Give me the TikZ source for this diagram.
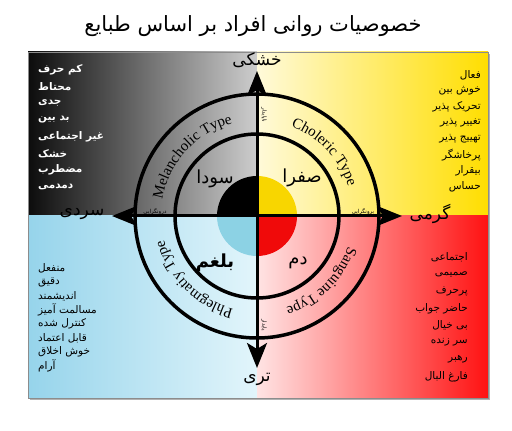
\documentclass[tikz,border=0pt]{standalone}
\usepackage{fontspec}
\setmainfont{Liberation Serif}
\newfontfamily\farsifont[Script=Arabic]{DejaVu Sans}
\TeXXeTstate=1
\usetikzlibrary{arrows.meta,decorations.text}
\newcommand\pfa[1]{{\farsifont\beginR #1\endR}}
\definecolor{tlL}{RGB}{12,12,12}
\definecolor{tlR}{RGB}{205,205,205}
\definecolor{trL}{RGB}{255,250,218}
\definecolor{trR}{RGB}{255,222,0}
\definecolor{blL}{RGB}{150,212,235}
\definecolor{blR}{RGB}{226,245,251}
\definecolor{brL}{RGB}{255,228,228}
\definecolor{brR}{RGB}{255,18,18}
\definecolor{pieY}{RGB}{248,214,0}
\definecolor{pieR}{RGB}{240,10,10}
\definecolor{pieB}{RGB}{140,210,228}
\tikzset{
  axisline/.style={line width=3pt,{Stealth[length=25pt,width=20pt,inset=6pt]}-{Stealth[length=25pt,width=20pt,inset=6pt]}},
  ring/.style={line width=3.5pt},
  axlab/.style={inner sep=0pt,font=\farsifont\fontsize{17}{17}\selectfont},
  humor/.style={inner sep=0pt,font=\farsifont\fontsize{18}{18}\selectfont},
  tiny/.style={inner sep=0pt,font=\farsifont\fontsize{5.5}{5.5}\selectfont},
  listL/.style={anchor=west,inner sep=0pt,font=\farsifont\fontsize{10.5}{10.5}\selectfont},
  listR/.style={anchor=east,inner sep=0pt,font=\farsifont\fontsize{10.5}{10.5}\selectfont},
  arctext/.style={decorate,decoration={text along path,text align=center}}
}
\begin{document}
\begin{tikzpicture}[x=1pt,y=1pt]
\useasboundingbox (0,0) rectangle (512,431);
\fill[white] (0,0) rectangle (512,431);
\coordinate (C) at (257,215);
% panel shadow and quadrants
\fill[black!30] (30,31) rectangle (490,377);
\shade[left color=tlL,right color=tlR] (28,215) rectangle (257,379);
\shade[left color=trL,right color=trR] (257,215) rectangle (488,379);
\shade[left color=blL,right color=blR] (28,33) rectangle (257,215);
\shade[left color=brL,right color=brR] (257,33) rectangle (488,215);
\draw[black!45,line width=0.8pt] (28,33) rectangle (488,379);
% title
\node[inner sep=0pt,font=\farsifont\fontsize{21}{21}\selectfont] (title) at (253,405) {\pfa{خصوصیات روانی افراد بر اساس طبایع}};
% pie
\fill[black] (C) -- ([shift={(90:40)}]C) arc (90:180:40) -- cycle;
\fill[pieY] (C) -- ([shift={(0:40)}]C) arc (0:90:40) -- cycle;
\fill[pieR] (C) -- ([shift={(270:40)}]C) arc (270:360:40) -- cycle;
\fill[pieB] (C) -- ([shift={(180:40)}]C) arc (180:270:40) -- cycle;
% rings
\draw[ring] (C) circle (82);
\draw[ring] (C) circle (122);
% axes
\coordinate (top) at (257,360);
\coordinate (bot) at (257,63);
\coordinate (lft) at (112,215);
\coordinate (rgt) at (402,215);
\draw[axisline] (bot) -- (top);
\draw[axisline] (lft) -- (rgt);
% axis labels
\node[axlab] (dry) at (257,371) {\pfa{خشکی}};
\node[axlab] (wet) at (257,52) {\pfa{تری}};
\node[axlab] (cold) at (82,217) {\pfa{سردی}};
\node[axlab] (warm) at (430,217) {\pfa{گرمی}};
% small labels
\node[tiny] (intro) at (155,219) {\pfa{درونگرایی}};
\node[tiny] (extro) at (363,219) {\pfa{برونگرایی}};
\node[tiny,rotate=-90] (unst) at (264,316) {\pfa{ناپایدار}};
\node[tiny,rotate=-90] (stab) at (264,106) {\pfa{پایدار}};
% humors
\node[humor] (sauda) at (215,252) {\pfa{سودا}};
\node[humor] (safra) at (302,253) {\pfa{صفرا}};
\node[humor,font=\farsifont\bfseries\fontsize{18}{18}\selectfont] (balgham) at (215,168) {\pfa{بلغم}};
\node[humor] (dam) at (298,168) {\pfa{دم}};
% curved type names
\path[arctext,decoration={text={|\fontsize{15}{15}\selectfont|Melancholic Type}}] ([shift={(175:96)}]C) arc (175:100:96);
\path[arctext,decoration={text={|\fontsize{15}{15}\selectfont|Choleric Type}}] ([shift={(82:96)}]C) arc (82:5:96);
\path[arctext,decoration={text={|\fontsize{15}{15}\selectfont|Sanguine Type}}] ([shift={(-6:96)}]C) arc (-6:-85:96);
\path[arctext,decoration={text={|\fontsize{15}{15}\selectfont|Phlegmatiy Type}}] ([shift={(264:96)}]C) arc (264:186:96);
% lists
\foreach \t [count=\i] in {کم حرف,محتاط,جدی,بد بین,غیر اجتماعی,خشک,مضطرب,دمدمی}
  \node[listL,text=white,font=\farsifont\bfseries\fontsize{10.5}{10.5}\selectfont] (tl\i) at (38,{361-16.7*(\i-1)}) {\pfa{\t}};
\foreach \t [count=\i] in {فعال,خوش بین,تحریک پذیر,تغییر پذیر,تهییج پذیر,پرخاشگر,بیقرار,حساس}
  \node[listR] (tr\i) at (481,{356-16*(\i-1)}) {\pfa{\t}};
\foreach \t [count=\i] in {منفعل,دقیق,اندیشمند,مسالمت آمیز,کنترل شده,قابل اعتماد,خوش اخلاق,آرام}
  \node[listL] (bl\i) at (38,{163-14*(\i-1)}) {\pfa{\t}};
\foreach \t [count=\i] in {اجتماعی,صمیمی,پرحرف,حاضر جواب,بی خیال,سر زنده,رهبر,فارغ البال}
  \node[listR] (br\i) at (468,{174-17.1*(\i-1)}) {\pfa{\t}};
\end{tikzpicture}
\end{document}
